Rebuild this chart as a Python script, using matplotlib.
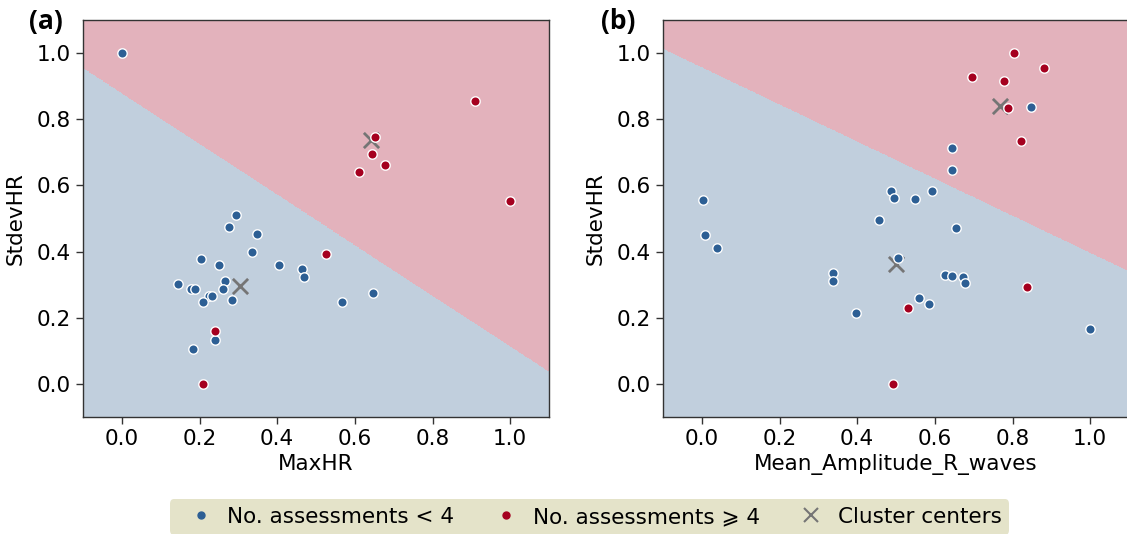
import numpy as np
import matplotlib
matplotlib.use("Agg")
import matplotlib.pyplot as plt
from matplotlib.colors import ListedColormap
from matplotlib.lines import Line2D

# ---------------- data ----------------
# Panel (a): MaxHR vs StdevHR
a_low_x = [0.000, 0.295, 0.277, 0.347, 0.335, 0.204, 0.249, 0.405, 0.463, 0.468,
           0.144, 0.178, 0.188, 0.265, 0.260, 0.225, 0.233, 0.209, 0.284, 0.567,
           0.647, 0.240, 0.184]
a_low_y = [1.000, 0.511, 0.474, 0.454, 0.400, 0.379, 0.359, 0.359, 0.347, 0.324,
           0.303, 0.288, 0.288, 0.310, 0.286, 0.266, 0.266, 0.247, 0.253, 0.247,
           0.276, 0.133, 0.107]
a_high_x = [0.525, 0.241, 0.210, 0.909, 0.651, 0.644, 0.678, 0.612, 1.000]
a_high_y = [0.393, 0.159, 0.000, 0.855, 0.746, 0.694, 0.662, 0.641, 0.553]
a_centers_x = [0.305, 0.641]
a_centers_y = [0.297, 0.736]

# Panel (b): Mean_Amplitude_R_waves vs StdevHR
b_low_x = [0.004, 0.008, 0.038, 0.338, 0.339, 0.396, 0.488, 0.496, 0.550, 0.593,
           0.455, 0.506, 0.559, 0.584, 0.625, 0.645, 0.673, 0.678, 1.000, 0.848,
           0.643, 0.644, 0.654]
b_low_y = [0.555, 0.450, 0.410, 0.335, 0.312, 0.213, 0.583, 0.561, 0.558, 0.583,
           0.495, 0.380, 0.261, 0.242, 0.328, 0.325, 0.323, 0.305, 0.167, 0.838,
           0.714, 0.648, 0.470]
b_high_x = [0.532, 0.491, 0.838, 0.803, 0.882, 0.696, 0.778, 0.788, 0.821]
b_high_y = [0.228, 0.000, 0.292, 1.000, 0.956, 0.928, 0.917, 0.833, 0.735]
b_centers_x = [0.499, 0.767]
b_centers_y = [0.363, 0.841]

x_labels = ["MaxHR", "Mean_Amplitude_R_waves"]
y_label = "StdevHR"
panel_tags = ["(a)", "(b)"]
legend_labels = ["No. assessments < 4", "No. assessments \u2a7e 4", "Cluster centers"]
ticks = [0.0, 0.2, 0.4, 0.6, 0.8, 1.0]

# ---------------- style ----------------
BLUE = "#2d5f94"
RED = "#a5001f"
BG_BLUE = "#c1cfdd"
BG_RED = "#e3b2bc"
GREY = "#757575"
FS = 15.5

plt.rcParams["font.family"] = ["DejaVu Sans"]

fig = plt.figure(figsize=(11.27, 5.34), dpi=100)
W, H = 1127, 534
ax_a = fig.add_axes([83 / W, (H - 417) / H, 466 / W, 397 / H])
ax_b = fig.add_axes([663 / W, (H - 417) / H, 466 / W, 397 / H])

panels = [
    (ax_a, a_low_x, a_low_y, a_high_x, a_high_y, a_centers_x, a_centers_y),
    (ax_b, b_low_x, b_low_y, b_high_x, b_high_y, b_centers_x, b_centers_y),
]

xlim = (-0.1, 1.1)
ylim = (-0.1, 1.1)
gx = np.linspace(xlim[0], xlim[1], 700)
gy = np.linspace(ylim[0], ylim[1], 700)
GX, GY = np.meshgrid(gx, gy)
cmap = ListedColormap([BG_BLUE, BG_RED])

for i, (ax, lx, ly, hx, hy, cx, cy) in enumerate(panels):
    # nearest-center region (cluster assignment)
    d0 = (GX - cx[0]) ** 2 + (GY - cy[0]) ** 2
    d1 = (GX - cx[1]) ** 2 + (GY - cy[1]) ** 2
    lab = (d1 < d0).astype(float)
    ax.pcolormesh(GX, GY, lab, cmap=cmap, vmin=0, vmax=1, shading="auto",
                  rasterized=True, zorder=0)
    ax.scatter(cx, cy, marker="x", s=120, linewidths=2.0, color=GREY, zorder=2)
    ax.scatter(lx, ly, s=46, color=BLUE, edgecolors="white", linewidths=1.0, zorder=3)
    ax.scatter(hx, hy, s=46, color=RED, edgecolors="white", linewidths=1.0, zorder=3)
    ax.set_xlim(*xlim)
    ax.set_ylim(*ylim)
    ax.set_xticks(ticks)
    ax.set_yticks(ticks)
    ax.set_xticklabels([f"{t:.1f}" for t in ticks])
    ax.set_yticklabels([f"{t:.1f}" for t in ticks])
    ax.tick_params(labelsize=FS, length=5, width=1.0, color="#333333")
    ax.set_xlabel(x_labels[i], fontsize=FS, labelpad=4)
    ax.set_ylabel(y_label, fontsize=FS, labelpad=8)
    for s in ax.spines.values():
        s.set_color("#333333")
        s.set_linewidth(1.0)

fig.text(29 / W, 1 - 21 / H, panel_tags[0], fontsize=19, fontweight="bold",
         family=["Open Sans", "DejaVu Sans"], ha="left", va="center")
fig.text(601 / W, 1 - 21 / H, panel_tags[1], fontsize=19, fontweight="bold",
         family=["Open Sans", "DejaVu Sans"], ha="left", va="center")

handles = [
    Line2D([], [], linestyle="none", marker="o", markersize=5, color=BLUE),
    Line2D([], [], linestyle="none", marker="o", markersize=5, color=RED),
    Line2D([], [], linestyle="none", marker="x", markersize=10, mew=1.5, color=GREY),
]
leg = fig.legend(handles, legend_labels, loc="center", ncol=3,
                 bbox_to_anchor=(589.5 / W, 17 / H), fontsize=FS,
                 frameon=True, fancybox=True, facecolor="#e4e3c9", edgecolor="none",
                 framealpha=1.0, borderpad=0.35, handlelength=2.2,
                 handletextpad=0.12, columnspacing=1.3)

fig.savefig("out.png", dpi=100)
